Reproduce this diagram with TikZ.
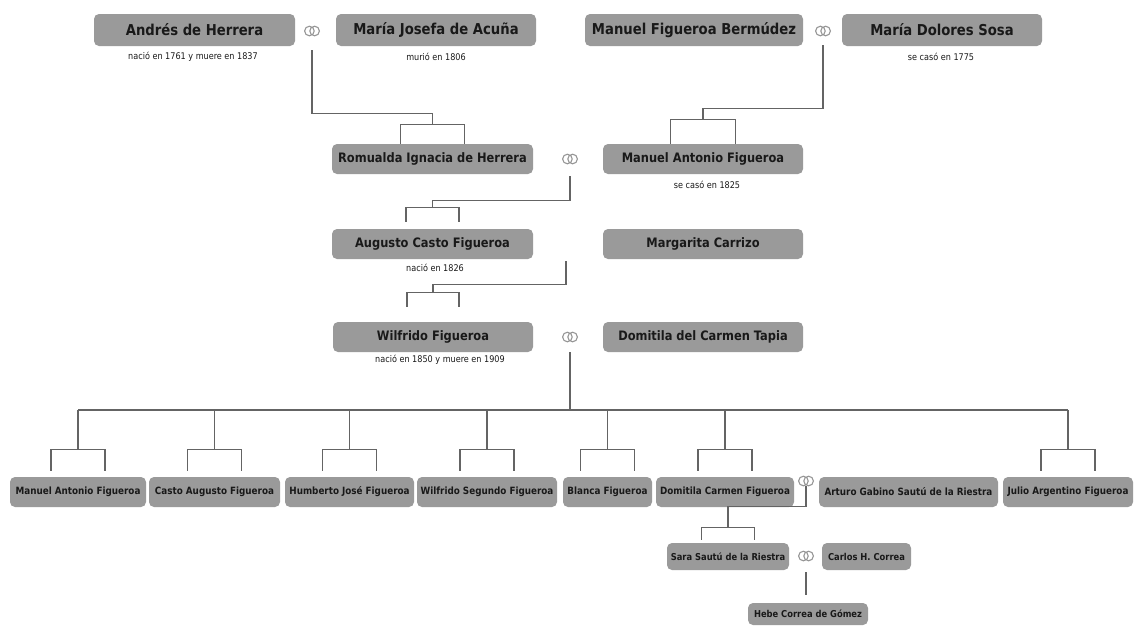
\documentclass[tikz,border=0pt]{standalone}
\usepackage{fontspec}
\setmainfont{DejaVu Sans}[FakeStretch=0.88]
\definecolor{boxgray}{RGB}{154,154,154}
\definecolor{linegray}{RGB}{100,100,100}
\definecolor{ringgray}{RGB}{150,150,150}
\definecolor{inkgray}{RGB}{25,25,25}

\begin{document}
\begin{tikzpicture}[x=1pt, y=-1pt,
    person/.style={rectangle, rounded corners=5pt, fill=boxgray, text=inkgray, inner sep=0pt},
    topname/.style={person, minimum height=32pt, font=\fontsize{15}{18}\selectfont\bfseries},
    genname/.style={person, minimum height=30pt, font=\fontsize{13}{16}\selectfont\bfseries},
    kidname/.style={person, minimum height=30pt, font=\fontsize{10}{12}\selectfont\bfseries},
    smallname/.style={person, font=\fontsize{9.5}{11}\selectfont\bfseries},
    note/.style={font=\fontsize{9.2}{11}\selectfont, text=inkgray},
    link/.style={draw=linegray, line width=1.3pt},
    ring/.style={draw=ringgray, line width=1.1pt}]

  \fill[white] (0,0) rectangle (1134,625);
  \useasboundingbox (0,0) rectangle (1134,625);

  % first generation
  \node[topname, minimum width=201pt] (andres)    at (194.5,30) {Andrés de Herrera};
  \node[topname, minimum width=200pt] (mjosefa)   at (436,30)   {María Josefa de Acuña};
  \node[topname, minimum width=218pt] (mfigueroa) at (694,30)   {Manuel Figueroa Bermúdez};
  \node[topname, minimum width=200pt] (mdolores)  at (942,30)   {María Dolores Sosa};
  \node[note] (n1) at (193,57) {nació en 1761 y muere en 1837};
  \node[note] (n2) at (436,57) {murió en 1806};
  \node[note] (n3) at (941,57) {se casó en 1775};

  % second, third and fourth generation
  \node[genname, minimum width=201pt] (romualda)  at (432.5,159) {Romualda Ignacia de Herrera};
  \node[genname, minimum width=200pt] (mantonio)  at (703,159)   {Manuel Antonio Figueroa};
  \node[note] (n4) at (707,185) {se casó en 1825};
  \node[genname, minimum width=201pt] (augusto)   at (432.5,244) {Augusto Casto Figueroa};
  \node[genname, minimum width=200pt] (margarita) at (703,244)   {Margarita Carrizo};
  \node[note] (n5) at (435,268) {nació en 1826};
  \node[genname, minimum width=200pt] (wilfrido)  at (433,337)   {Wilfrido Figueroa};
  \node[genname, minimum width=200pt] (domitila)  at (703,337)   {Domitila del Carmen Tapia};
  \node[note] (n6) at (440,360) {nació en 1850 y muere en 1909};

  % children
  \node[kidname, minimum width=136pt] (c1) at (78,492)    {Manuel Antonio Figueroa};
  \node[kidname, minimum width=131pt] (c2) at (214.5,492) {Casto Augusto Figueroa};
  \node[kidname, minimum width=129pt] (c3) at (349.5,492) {Humberto José Figueroa};
  \node[kidname, minimum width=140pt] (c4) at (487,492)   {Wilfrido Segundo Figueroa};
  \node[kidname, minimum width=89pt]  (c5) at (607.5,492) {Blanca Figueroa};
  \node[kidname, minimum width=138pt] (c6) at (725,492)   {Domitila Carmen Figueroa};
  \node[kidname, minimum width=179pt] (arturo) at (908.5,492) {Arturo Gabino Sautú de la Riestra};
  \node[kidname, minimum width=130pt] (c7) at (1068,492)  {Julio Argentino Figueroa};

  \node[smallname, minimum width=122pt, minimum height=27pt] (sara)   at (728,556.5)   {Sara Sautú de la Riestra};
  \node[smallname, minimum width=89pt,  minimum height=27pt] (carlos) at (866.5,556.5) {Carlos H. Correa};
  \node[smallname, minimum width=120pt, minimum height=22pt] (hebe)   at (808,614)     {Hebe Correa de Gómez};

  % wedding rings
  \coordinate (r1) at (312,31);
  \coordinate (r2) at (823,31);
  \coordinate (r3) at (570,159);
  \coordinate (r4) at (570,337);
  \coordinate (r5) at (806,481);
  \coordinate (r6) at (806,556);
  \foreach \r in {r1,r2,r3,r4,r5,r6}
    \draw[ring] ([xshift=-2.6pt]\r) circle (4.8pt) ([xshift=2.6pt]\r) circle (4.8pt);

  % descent lines
  \draw[link] ([yshift=-19pt]r1) |- ([yshift=30pt]romualda.north) -- ([yshift=19pt]romualda.north);
  \draw[link] ([xshift=-32pt]romualda.north) |- ([xshift=32pt,yshift=19pt]romualda.north) -- ([xshift=32pt]romualda.north);

  \draw[link] ([yshift=-14pt]r2) |- ([yshift=35pt]mantonio.north) -- ([yshift=24pt]mantonio.north);
  \draw[link] ([xshift=-32.5pt]mantonio.north) |- ([xshift=32.5pt,yshift=24pt]mantonio.north) -- ([xshift=32.5pt]mantonio.north);

  \draw[link] ([yshift=-17pt]r3) |- ([yshift=28pt]augusto.north) -- ([yshift=21pt]augusto.north);
  \draw[link] ([xshift=-26.5pt,yshift=7pt]augusto.north) |- ([xshift=26.5pt,yshift=21pt]augusto.north) -- ([xshift=26.5pt,yshift=7pt]augusto.north);

  \coordinate (m3) at (566,261);
  \draw[link] (m3) |- ([yshift=37pt]wilfrido.north) -- ([yshift=29pt]wilfrido.north);
  \draw[link] ([xshift=-26pt,yshift=15pt]wilfrido.north) |- ([xshift=26pt,yshift=29pt]wilfrido.north) -- ([xshift=26pt,yshift=15pt]wilfrido.north);

  % the children of Wilfrido
  \coordinate (bar) at (0,410);
  \draw[link] ([yshift=-15pt]r4) -- (r4 |- bar);
  \draw[link] (c1.north |- bar) -- (c7.north |- bar);
  \foreach \c in {c1,c2,c3,c4,c5,c6,c7} {
    \draw[link] (\c.north |- bar) -- ([yshift=27pt]\c.north);
    \draw[link] ([xshift=-27pt,yshift=6pt]\c.north) |- ([xshift=27pt,yshift=27pt]\c.north) -- ([xshift=27pt,yshift=6pt]\c.north);
  }

  \draw[link] ([yshift=-5pt]r5) |- ([yshift=36pt]sara.north) -- ([yshift=15pt]sara.north);
  \draw[link] ([xshift=-26.5pt,yshift=3pt]sara.north) |- ([xshift=26.5pt,yshift=15pt]sara.north) -- ([xshift=26.5pt,yshift=3pt]sara.north);

  \coordinate (h1) at ([yshift=8pt]hebe.north -| r6);
  \draw[link] ([yshift=-16pt]r6) -- (h1);

\end{tikzpicture}
\end{document}
